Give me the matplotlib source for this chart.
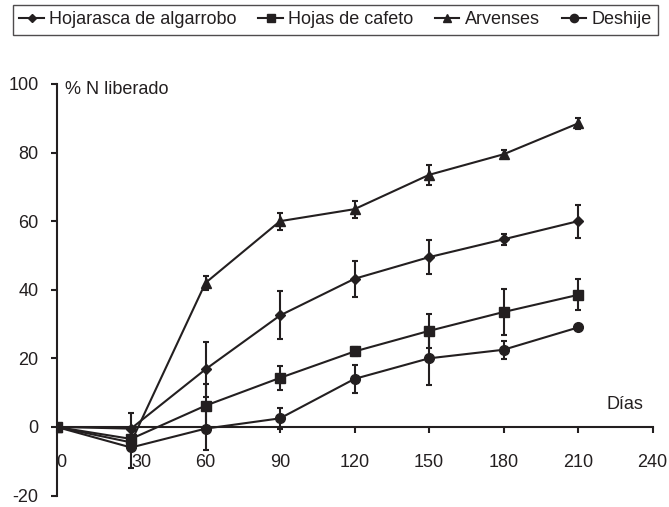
import matplotlib.pyplot as plt
from matplotlib.lines import Line2D

plt.rcParams['font.family'] = ['Liberation Sans', 'DejaVu Sans']
plt.rcParams['axes.unicode_minus'] = False

dias = [0, 30, 60, 90, 120, 150, 180, 210]

hojarasca = [0, -0.5, 16.8, 32.5, 43.2, 49.5, 54.7, 60.0]
hojarasca_err = [0, 4.5, 8.0, 7.0, 5.3, 5.0, 1.6, 4.8]

cafeto = [0, -3.5, 6.2, 14.3, 22.0, 28.0, 33.5, 38.5]
cafeto_err = [0, 2.5, 6.3, 3.5, 1.4, 5.0, 6.6, 4.5]

arvenses = [0, -4.5, 42.0, 60.0, 63.5, 73.5, 79.5, 88.5]
arvenses_err = [0, 2.0, 2.0, 2.5, 2.5, 3.0, 1.2, 1.5]

deshije = [0, -6.0, -0.5, 2.5, 14.0, 20.0, 22.5, 29.0]
deshije_err = [0, 6.0, 6.2, 3.0, 4.2, 7.7, 2.6, 0]

x_ticks = [0, 30, 60, 90, 120, 150, 180, 210, 240]
y_ticks = [-20, 0, 20, 40, 60, 80, 100]

c = '#231f20'
fs = 13

fig = plt.figure(figsize=(6.69, 5.07), dpi=100)
ax = fig.add_axes([56.5 / 669, 11.5 / 507, 596 / 669, 411.5 / 507])

series = [
    ('Hojarasca de algarrobo', hojarasca, hojarasca_err, 'D', 5),
    ('Hojas de cafeto', cafeto, cafeto_err, 's', 7),
    ('Arvenses', arvenses, arvenses_err, '^', 7.5),
    ('Deshije', deshije, deshije_err, 'o', 7),
]
handles = []
for name, vals, errs, mk, ms in series:
    ax.errorbar(dias, vals, yerr=errs, color=c, marker=mk, markersize=ms,
                linewidth=1.5, elinewidth=1.5, capsize=2, capthick=1.5)
    handles.append(Line2D([], [], color=c, marker=mk, markersize=ms * 0.85,
                          linewidth=1.5, label=name))

ax.set_xlim(0, 240)
ax.set_ylim(-20, 100)
ax.spines['top'].set_visible(False)
ax.spines['right'].set_visible(False)
ax.spines['bottom'].set_position(('data', 0))
for s in ['left', 'bottom']:
    ax.spines[s].set_linewidth(1.5)
    ax.spines[s].set_color(c)

ax.set_xticks(x_ticks)
ax.set_xticklabels([str(t) for t in x_ticks])
ax.set_yticks(y_ticks)
ax.tick_params(axis='both', direction='out', length=4.5, width=1.5, colors=c,
               labelsize=fs, labelcolor=c)
ax.tick_params(axis='x', pad=15)
ax.tick_params(axis='y', pad=8.5)
ax.get_xticklabels()[0].set_horizontalalignment('left')
ax.get_xticklabels()[1].set_horizontalalignment('left')

ax.text(3.4, 98.4, '% N liberado', fontsize=fs, color=c, va='center', ha='left')
ax.text(229, 6.4, 'Días', fontsize=fs, color=c, va='center', ha='center')

leg = fig.legend(handles=handles, loc='upper center', ncol=4,
                 bbox_to_anchor=(335.5 / 669, 1 - 5 / 507),
                 fancybox=False, edgecolor=c, fontsize=fs,
                 handlelength=1.35, handletextpad=0.3, borderpad=0.35,
                 columnspacing=1.2, borderaxespad=0)
leg.get_frame().set_linewidth(1.0)
for t in leg.get_texts():
    t.set_color(c)

fig.savefig('out.png', dpi=100)
